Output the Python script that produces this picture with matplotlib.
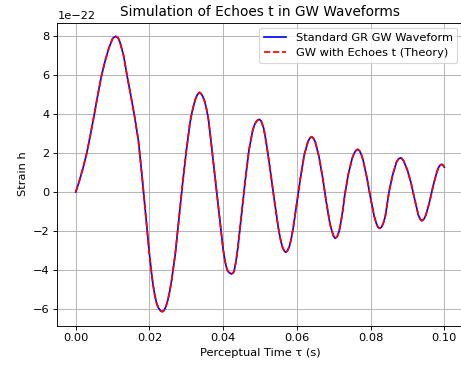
import matplotlib
matplotlib.use("Agg")
import matplotlib.pyplot as plt
import numpy as np

# time samples (s)
time_s = [
    0.0000, 0.0010, 0.0020, 0.0030, 0.0040, 0.0050, 0.0060, 0.0070, 0.0080, 0.0090,
    0.0100, 0.0108, 0.0115, 0.0120, 0.0130, 0.0140, 0.0150, 0.0160, 0.0170, 0.0180,
    0.0190, 0.0200, 0.0205, 0.0210, 0.0215, 0.0220, 0.0225, 0.0230, 0.0235, 0.0240,
    0.0245, 0.0250, 0.0255, 0.0260, 0.0270, 0.0280, 0.0290, 0.0300, 0.0310, 0.0315,
    0.0320, 0.0325, 0.0330, 0.0336, 0.0340, 0.0345, 0.0350, 0.0355, 0.0360, 0.0365,
    0.0370, 0.0380, 0.0390, 0.0400, 0.0405, 0.0410, 0.0415, 0.0422, 0.0427, 0.0430,
    0.0435, 0.0440, 0.0450, 0.0460, 0.0470, 0.0480, 0.0485, 0.0490, 0.0494, 0.0498,
    0.0503, 0.0510, 0.0515, 0.0520, 0.0525, 0.0530, 0.0540, 0.0550, 0.0555, 0.0560,
    0.0565, 0.0570, 0.0575, 0.0580, 0.0585, 0.0590, 0.0600, 0.0610, 0.0620, 0.0630,
    0.0635, 0.0640, 0.0645, 0.0650, 0.0660, 0.0670, 0.0680, 0.0690, 0.0695, 0.0700,
    0.0704, 0.0710, 0.0715, 0.0720, 0.0725, 0.0730, 0.0740, 0.0750, 0.0755, 0.0760,
    0.0765, 0.0770, 0.0775, 0.0780, 0.0790, 0.0800, 0.0810, 0.0815, 0.0820, 0.0825,
    0.0830, 0.0835, 0.0840, 0.0850, 0.0860, 0.0870, 0.0875, 0.0881, 0.0885, 0.0890,
    0.0900, 0.0910, 0.0920, 0.0930, 0.0935, 0.0939, 0.0945, 0.0950, 0.0960, 0.0970,
    0.0980, 0.0985, 0.0990, 0.0993, 0.0997, 0.1000,
]

# strain in units of 1e-22
strain_gr = [
    0.00, 0.58, 1.25, 2.00, 2.95, 3.95, 5.00, 5.98, 6.75, 7.40,
    7.88, 8.00, 7.92, 7.70, 7.00, 5.90, 4.90, 3.85, 2.65, 0.80,
    -1.20, -3.20, -4.05, -4.80, -5.35, -5.75, -5.97, -6.10, -6.15, -6.08,
    -5.87, -5.55, -5.10, -4.55, -3.20, -1.40, 0.45, 2.10, 3.55, 4.05,
    4.45, 4.78, 5.00, 5.12, 5.05, 4.90, 4.65, 4.25, 3.75, 2.95,
    2.10, 0.45, -1.30, -2.95, -3.55, -3.95, -4.12, -4.21, -4.16, -4.05,
    -3.55, -2.85, -1.15, 0.60, 2.15, 3.15, 3.45, 3.62, 3.70, 3.73,
    3.66, 3.28, 2.75, 2.15, 1.50, 0.80, -0.57, -1.87, -2.38, -2.78,
    -3.00, -3.10, -3.00, -2.78, -2.38, -1.86, -0.55, 0.75, 1.90, 2.58,
    2.76, 2.84, 2.76, 2.57, 1.82, 0.74, -0.53, -1.65, -2.00, -2.28,
    -2.38, -2.27, -2.00, -1.50, -0.90, -0.15, 0.95, 1.72, 1.97, 2.13,
    2.19, 2.12, 1.92, 1.62, 0.74, -0.31, -1.25, -1.58, -1.80, -1.87,
    -1.80, -1.58, -1.25, 0.00, 0.88, 1.52, 1.68, 1.76, 1.72, 1.59,
    1.12, 0.45, -0.40, -1.21, -1.40, -1.48, -1.39, -1.19, -0.51, 0.33,
    1.03, 1.28, 1.40, 1.42, 1.37, 1.28,
]

# the echo curve sits exactly on the GR curve in the reference
strain_echo = list(strain_gr)

t = np.array(time_s)
h_gr = np.array(strain_gr) * 1e-22
h_echo = np.array(strain_echo) * 1e-22

dpi = 81.5
fig = plt.figure(figsize=(461 / dpi, 366 / dpi), dpi=dpi)
ax = fig.add_axes([57.3 / 461, 40.5 / 366, 405.4 / 461, 303 / 366])

ax.plot(t, h_gr, color='blue', label='Standard GR GW Waveform')
ax.plot(t, h_echo, color='red', linestyle='--', label='GW with Echoes t (Theory)')

ax.set_title('Simulation of Echoes t in GW Waveforms')
ax.set_xlabel('Perceptual Time τ (s)')
ax.set_ylabel('Strain h')
ax.legend(loc='upper right')
ax.grid(True)

fig.savefig('out.png', dpi=dpi)
